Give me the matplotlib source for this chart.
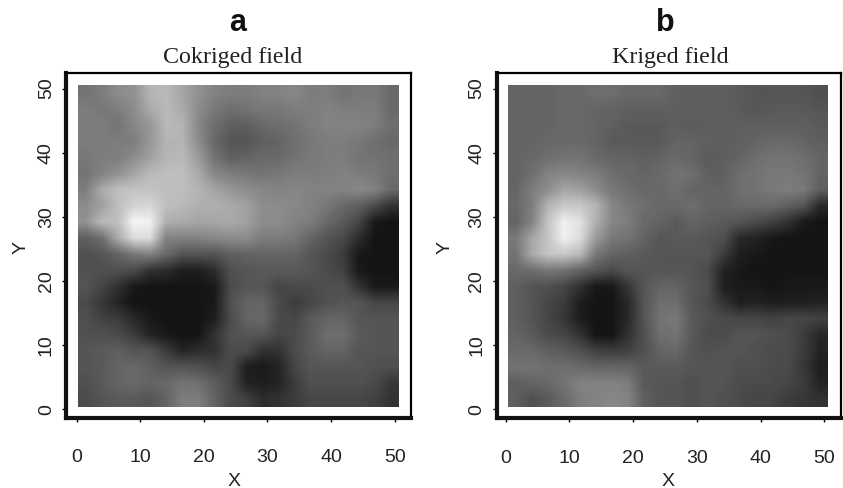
import numpy as np
import matplotlib
matplotlib.use("Agg")
import matplotlib.pyplot as plt

W, H = 843, 488

# grey levels, top row first, 20 x 20 cells
cokriged = [
    [115,125,140,145,180,185,165,145,130,125,125,130,130,135,125,125,115,120,120,105],
    [125,120,125,140,170,185,170,140,120,110,115,120,120,125,125,130,125,125,125,105],
    [125,125,115,135,150,185,180,135,110,95,95,105,110,115,125,130,130,130,125,110],
    [125,125,125,125,150,180,180,140,105,85,85,95,100,110,120,125,125,120,110,105],
    [120,125,125,140,160,180,185,155,115,95,100,105,105,115,120,125,125,115,115,110],
    [115,130,145,165,185,190,190,170,135,125,120,115,120,125,125,125,130,125,120,110],
    [125,170,190,195,195,190,190,180,165,150,140,135,130,135,130,130,130,135,130,105],
    [140,160,190,210,215,190,185,175,175,170,160,140,140,135,130,120,105,95,75,50],
    [145,185,190,245,240,175,170,165,165,170,160,140,140,130,125,105,90,70,25,20],
    [95,110,170,220,220,130,130,130,135,140,140,125,125,120,100,85,75,45,20,20],
    [80,85,100,120,130,105,85,85,85,95,100,100,100,100,85,75,60,25,20,20],
    [80,80,80,75,50,45,30,30,45,80,85,90,90,90,85,75,65,25,20,20],
    [85,70,50,25,20,20,20,20,25,75,85,85,70,75,75,80,80,50,25,25],
    [75,55,35,20,20,20,20,20,25,80,100,100,75,60,70,80,85,85,70,70],
    [80,65,60,40,25,20,20,20,30,75,100,105,75,70,90,100,100,85,85,85],
    [80,80,75,60,35,25,20,20,50,80,85,85,70,75,90,110,110,90,85,85],
    [85,90,95,85,85,60,35,45,50,75,75,50,50,75,90,100,100,85,85,85],
    [85,90,100,105,95,85,85,80,70,75,30,25,35,70,85,85,85,85,80,80],
    [80,90,100,105,100,105,115,110,95,75,35,30,35,60,80,80,80,80,75,55],
    [75,85,90,90,85,100,125,125,100,75,65,45,50,60,70,70,70,70,65,50],
]

kriged = [
    [100,100,100,105,105,110,110,105,105,105,95,95,95,95,90,85,85,85,85,80],
    [100,100,100,105,105,100,100,95,95,95,95,95,95,95,90,85,90,90,90,85],
    [100,100,100,105,105,100,95,90,90,90,95,90,95,95,95,95,95,95,95,90],
    [100,100,105,105,105,100,90,90,90,90,100,100,95,95,95,100,105,105,100,95],
    [100,105,110,115,115,105,100,100,95,100,105,100,90,95,100,110,115,115,110,100],
    [100,110,130,135,130,125,110,105,100,105,115,110,95,95,110,115,120,120,115,100],
    [100,125,140,165,160,140,120,110,105,105,110,100,100,100,110,115,120,125,120,95],
    [105,125,180,200,200,180,135,120,110,105,105,110,100,100,105,105,105,95,85,40],
    [100,130,195,240,225,175,135,125,105,100,90,100,95,90,85,75,65,50,25,20],
    [120,165,195,240,220,155,120,115,100,85,90,90,85,80,40,35,25,20,20,20],
    [115,170,195,200,185,120,100,95,90,85,85,85,85,60,30,25,20,20,20,20],
    [105,110,120,115,100,85,75,85,85,85,85,85,75,35,25,20,20,20,20,20],
    [95,85,80,70,50,25,25,55,85,100,100,85,80,30,25,25,20,25,25,25],
    [95,85,70,60,30,20,20,40,85,110,110,85,75,50,30,35,30,30,30,35],
    [95,85,70,55,30,20,20,40,85,115,120,90,80,75,70,70,65,70,70,65],
    [100,90,75,70,50,20,20,50,80,110,115,90,75,75,85,85,80,75,60,40],
    [105,105,95,90,80,65,60,65,80,100,105,85,80,85,85,80,75,75,60,35],
    [115,115,110,110,105,100,100,100,90,90,90,85,85,85,80,80,75,75,55,30],
    [95,100,105,115,130,130,130,125,90,85,85,80,85,85,75,75,75,70,60,35],
    [95,80,90,105,125,130,135,130,95,85,85,80,85,80,75,70,70,60,55,50],
]

ticks = [0, 10, 20, 30, 40, 50]
letters = ["a", "b"]
titles = ["Cokriged field", "Kriged field"]


# left, right, top, bottom of the frame in pixels, then data limits
def panel(field, letter, title, frame, xlim, ylim, extent, letter_x, title_x, xlabel_x, ylabel_x):
    left, right, top, bottom = frame
    ax = fig.add_axes([left / W, 1 - bottom / H, (right - left) / W, (bottom - top) / H])
    ax.imshow(np.array(field), cmap="gray", vmin=0, vmax=255, extent=extent,
              interpolation="bilinear", aspect="auto")
    ax.set_xlim(xlim)
    ax.set_ylim(ylim)
    ax.set_xticks(ticks)
    ax.set_yticks(ticks)
    ax.tick_params(length=3, width=1, labelsize=14, labelcolor="#222222")
    ax.tick_params(axis="x", pad=20)
    ax.tick_params(axis="y", pad=5)
    for lab in ax.get_yticklabels():
        lab.set_rotation(90)
        lab.set_va("center")
    for side, lw in [("left", 3), ("bottom", 3), ("top", 1.6), ("right", 1.6)]:
        ax.spines[side].set_linewidth(lw)
    for side in ["left", "bottom"]:
        ax.spines[side].set_color("#111111")

    fig.text(letter_x / W, 1 - 23 / H, letter, family="Liberation Sans", weight="bold",
             fontsize=22, color="#111111", ha="center", va="center")
    fig.text(title_x / W, 1 - 57 / H, title, family="Liberation Serif", fontsize=17.3,
             color="#222222", ha="center", va="center")
    fig.text(xlabel_x / W, 1 - 481 / H, "X", fontsize=14, color="#222222", ha="center", va="center")
    fig.text(ylabel_x / W, 1 - 247 / H, "Y", fontsize=14, color="#222222", rotation=90,
             ha="center", va="center")


plt.rcParams["font.family"] = ["Liberation Sans", "DejaVu Sans"]
fig = plt.figure(figsize=(W / 100, H / 100), dpi=100)

panel(cokriged, letters[0], titles[0], (66, 410.5, 72.5, 417.5),
      (-1.7, 52.5), (-1.3, 52.5), (0.25, 50.6, 0.36, 50.5), 238, 233, 234, 21)
panel(kriged, letters[1], titles[1], (496.5, 841, 72.5, 418),
      (-1.45, 52.6), (-1.35, 52.5), (0.35, 50.5, 0.35, 50.5), 665, 670, 668, 445)

fig.savefig("out.png", dpi=100)
